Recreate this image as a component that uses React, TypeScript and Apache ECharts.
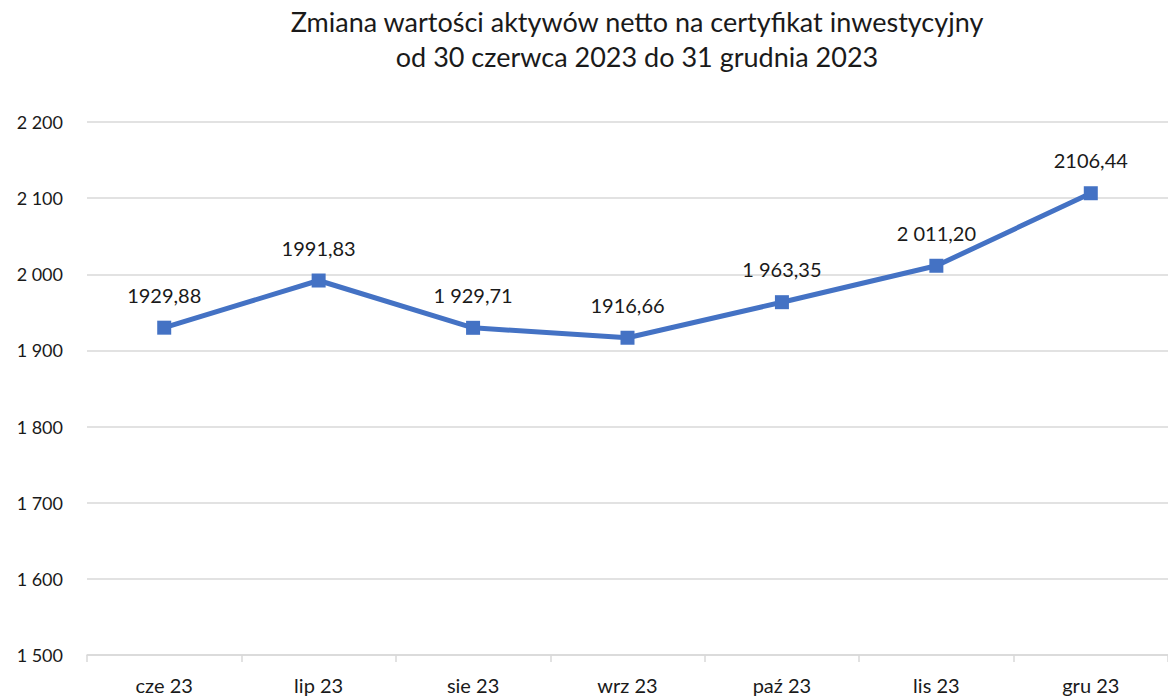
import React, { useEffect, useRef } from "react";
import * as echarts from "echarts";

const categories = ["cze 23", "lip 23", "sie 23", "wrz 23", "paź 23", "lis 23", "gru 23"];
const values = [1929.88, 1991.83, 1929.71, 1916.66, 1963.35, 2011.2, 2106.44];
const valueLabels = ["1929,88", "1991,83", "1 929,71", "1916,66", "1 963,35", "2 011,20", "2106,44"];
const titleLines = ["Zmiana wartości aktywów netto na certyfikat inwestycyjny", "od 30 czerwca 2023 do 31 grudnia 2023"];

const FONT = "Lato, 'Open Sans', sans-serif";

export default function App() {
  const ref = useRef<HTMLDivElement>(null);
  useEffect(() => {
    if (!ref.current) return;
    const chart = echarts.init(ref.current, undefined, { renderer: "svg" });
    chart.setOption({
      animation: false,
      backgroundColor: "#ffffff",
      graphic: [
        {
          type: "text",
          x: 637,
          y: 4,
          style: {
            text: titleLines.join("\n"),
            fontFamily: FONT,
            fontSize: 27,
            lineHeight: 35,
            fill: "#1a1a1a",
            textAlign: "center",
          },
        },
      ],
      grid: { left: 87, right: 0, top: 122, bottom: 45 },
      xAxis: {
        type: "category",
        data: categories,
        boundaryGap: true,
        axisLine: { lineStyle: { color: "#d9d9d9", width: 1.5 } },
        axisTick: { show: true, length: 7, alignWithLabel: false, lineStyle: { color: "#d9d9d9", width: 1.5 } },
        axisLabel: { color: "#1a1a1a", fontSize: 20, fontFamily: FONT, margin: 20 },
      },
      yAxis: {
        type: "value",
        min: 1500,
        max: 2200,
        interval: 100,
        axisLine: { show: false },
        axisTick: { show: false },
        splitLine: { lineStyle: { color: "#d9d9d9", width: 1.5 } },
        axisLabel: {
          color: "#1a1a1a",
          fontSize: 18,
          fontFamily: FONT,
          margin: 24,
          formatter: (v: number) => String(v).replace(/\B(?=(\d{3})+(?!\d))/g, " "),
        },
      },
      series: [
        {
          type: "line",
          data: values,
          lineStyle: { color: "#4472C4", width: 5 },
          itemStyle: { color: "#4472C4" },
          symbol: "rect",
          symbolSize: 14,
          label: {
            show: true,
            position: "top",
            distance: 16,
            color: "#1a1a1a",
            fontSize: 20,
            fontFamily: FONT,
            formatter: (p: any) => valueLabels[p.dataIndex],
          },
        },
      ],
    });
    return () => chart.dispose();
  }, []);
  return <div ref={ref} style={{ position: "fixed", left: 0, top: 0, width: 1168, height: 700 }} />;
}
